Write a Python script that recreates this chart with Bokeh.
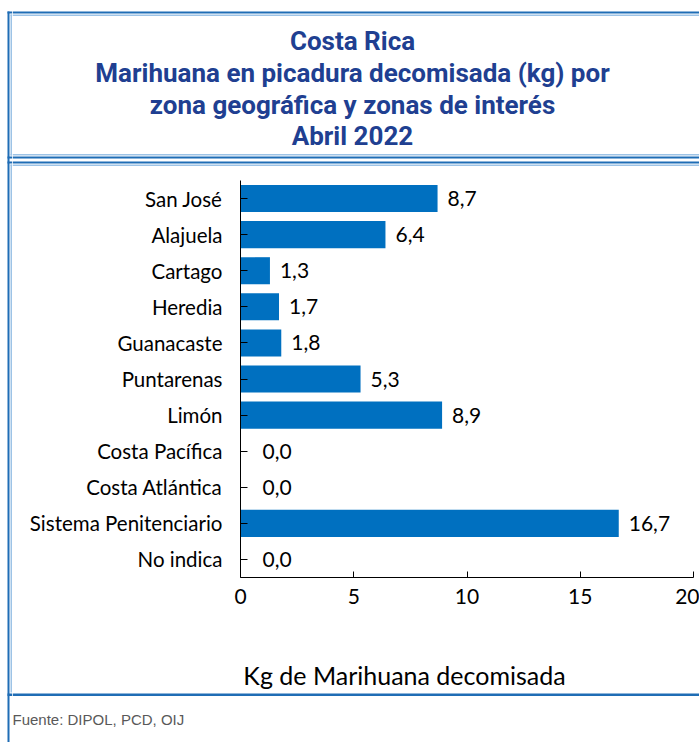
from bokeh.plotting import figure
from bokeh.models import ColumnDataSource, FactorRange, Range1d, FixedTicker
from bokeh.layouts import column, row
from bokeh.core.properties import value
from bokeh.embed import file_html
from bokeh.resources import INLINE

# ---- data ----
categories = ["San José", "Alajuela", "Cartago", "Heredia", "Guanacaste",
              "Puntarenas", "Limón", "Costa Pacífica", "Costa Atlántica",
              "Sistema Penitenciario", "No indica"]
values = [8.7, 6.4, 1.3, 1.7, 1.8, 5.3, 8.9, 0.0, 0.0, 16.7, 0.0]
x_ticks = [0, 5, 10, 15, 20]

title_lines = ["Costa Rica",
               "Marihuana en picadura decomisada (kg) por",
               "zona geográfica y zonas de interés",
               "Abril 2022"]
x_title = "Kg de Marihuana decomisada"
source_note = "Fuente: DIPOL, PCD, OIJ"

FONT = "Lato"
BAR = "#0070c0"
DARK = "#1f6db5"
LIGHT = "#9dc3e6"
TITLE_C = "#203f91"

W, H = 699, 742
SW = 12                         # left strip carrying the vertical borders
H_T, H_C, H_F = 166, 474, 102   # title block, chart block, footer block


def canvas_fig(x0, y0, w, h):
    """Full-frame figure whose data units are page pixels (y downwards)."""
    f = figure(width=w, height=h, output_backend="svg", toolbar_location=None,
               x_range=Range1d(x0, x0 + w), y_range=Range1d(y0 + h, y0),
               x_axis_type=None, y_axis_type=None,
               min_border=0, min_border_left=0, min_border_right=0,
               min_border_top=0, min_border_bottom=0)
    f.outline_line_color = None
    return f


def band(f, x0, y0, x1, y1, color):
    f.quad(left=[x0], right=[x1], top=[y0], bottom=[y1],
           fill_color=color, line_color=None)


# horizontal rules: (y0, y1, colour, x start)
h_rules = [(11, 13, DARK, 7), (14, 15.5, LIGHT, 10),
           (153.5, 155, LIGHT, 10), (156, 158, DARK, 7),
           (161, 163, DARK, 7), (164, 165.5, LIGHT, 10)]

# ---------------- left strip (vertical borders) ----------------
s = canvas_fig(0, 0, SW, H)
band(s, 7, 11, 9, H, DARK)
band(s, 10, 14, 11.5, 155, LIGHT)
band(s, 10, 164, 11.5, 692, LIGHT)
for y0, y1, c, x0 in h_rules:
    band(s, x0, y0, SW, y1, c)
band(s, 7, 693, SW, 695.5, DARK)

# ---------------- title block ----------------
t = canvas_fig(SW, 0, W - SW, H_T)
for y0, y1, c, x0 in h_rules:
    band(t, SW, y0, W + 20, y1, c)
t.text(x=[352] * 4, y=[40.5, 72.5, 104, 135.5], text=title_lines,
       text_font=value("Roboto"), text_font_style="bold", text_font_size="26px",
       text_color=TITLE_C, text_align="center", text_baseline="alphabetic")

# ---------------- chart ----------------
labels = [f"{v:.1f}".replace(".", ",") for v in values]
offsets = [10 if v > 0 else 22 for v in values]
src = ColumnDataSource(dict(cat=categories, v=values, lbl=labels, off=offsets))

# frame in page coords: x 240..693, y 180..577
p = figure(width=W - SW, height=H_C, output_backend="svg", toolbar_location=None,
           y_range=FactorRange(factors=list(reversed(categories)), range_padding=0),
           x_range=Range1d(0, 20),
           min_border_left=240 - SW, min_border_right=W - 693,
           min_border_top=180 - H_T, min_border_bottom=H_T + H_C - 577)
p.outline_line_color = None
p.xgrid.grid_line_color = None
p.ygrid.grid_line_color = None

p.hbar(y="cat", right="v", left=0, height=0.75, source=src,
       fill_color=BAR, line_color=None)
p.text(x="v", y="cat", text="lbl", x_offset="off", source=src,
       text_font=value(FONT), text_font_size="21px", text_color="#000000",
       text_baseline="middle", text_align="left")

xa = p.xaxis[0]
xa.ticker = FixedTicker(ticks=x_ticks)
xa.major_tick_in = 6
xa.major_tick_out = 0
xa.minor_tick_line_color = None
xa.axis_line_color = "#000000"
xa.major_tick_line_color = "#000000"
xa.major_label_text_font = FONT
xa.major_label_text_font_size = "21px"
xa.major_label_text_color = "#000000"
xa.major_label_standoff = 11

ya = p.yaxis[0]
ya.major_tick_in = 7
ya.major_tick_out = 0
ya.minor_tick_line_color = None
ya.axis_line_color = "#000000"
ya.major_tick_line_color = "#000000"
ya.major_label_text_font = FONT
ya.major_label_text_font_size = "20.5px"
ya.major_label_text_color = "#000000"
ya.major_label_standoff = 18

# ---------------- footer block ----------------
y_top = H_T + H_C
ft = canvas_fig(SW, y_top, W - SW, H_F)
band(ft, SW, 693, W + 20, 695.5, DARK)
ft.text(x=[404], y=[674], text=[x_title],
        text_font=value(FONT), text_font_size="25px", text_color="#000000",
        text_align="center", text_baseline="middle")
ft.text(x=[12], y=[719], text=[source_note],
        text_font=value("Liberation Sans"), text_font_size="15px",
        text_color="#595959", text_align="left", text_baseline="middle")

layout = row(s, column(t, row(p, spacing=0), ft, spacing=0), spacing=0)
open("out.html", "w").write(file_html(layout, INLINE))
